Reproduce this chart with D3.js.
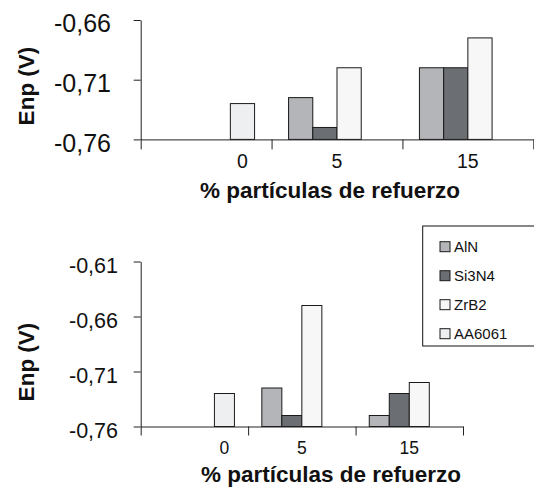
<!DOCTYPE html>
<html>
<head>
<meta charset="utf-8">
<script src="https://cdn.jsdelivr.net/npm/d3@7"></script>
<style>
  body { margin: 0; background: #fff; }
  svg { display: block; }
  svg text { font-family: "Liberation Sans", Arial, sans-serif; }
</style>
</head>
<body>
<svg width="534" height="488"></svg>
<script>
// data
const categories = ["0", "5", "15"];
const series = ["AlN", "Si3N4", "ZrB2", "AA6061"];

const topAlN    = [null, -0.725, -0.700];
const topSi3N4  = [null, -0.750, -0.700];
const topZrB2   = [null, -0.700, -0.675];
const topAA6061 = [-0.730, null, null];

const botAlN    = [null, -0.725, -0.750];
const botSi3N4  = [null, -0.750, -0.730];
const botZrB2   = [null, -0.650, -0.720];
const botAA6061 = [-0.730, null, null];

const topTicks = [-0.76, -0.71, -0.66];
const botTicks = [-0.76, -0.71, -0.66, -0.61];

const xTitle = "% partículas de refuerzo";
const yTitle = "Enp (V)";

const color = d3.scaleOrdinal()
    .domain(series)
    .range(["#b3b5b8", "#6b6e72", "#f7f7f7", "#eeeff1"]);

const svg = d3.select("svg");
const fmt = d => d.toFixed(2).replace(".", ",");

function panel(opt, values, ticks) {
    const g = svg.append("g");

    const x0 = d3.scaleBand().domain(categories).range([opt.left, opt.right]);
    const x1 = d3.scaleBand().domain(series)
        .range([opt.pad, x0.step() - opt.pad]);
    const xb = d3.scaleLinear().domain([0, categories.length]).range([opt.left, opt.right]);
    const y = d3.scaleLinear().domain([ticks[0], ticks[ticks.length - 1]])
        .range([opt.bottom, opt.top]);

    // bars
    const rows = [];
    series.forEach((s, i) => {
        values[i].forEach((v, j) => {
            if (v !== null) rows.push({s: s, cat: categories[j], v: v});
        });
    });
    g.selectAll("rect.bar")
        .data(rows)
        .enter()
        .append("rect")
        .attr("class", "bar")
        .attr("x", d => x0(d.cat) + x1(d.s))
        .attr("y", d => y(d.v))
        .attr("width", x1.bandwidth())
        .attr("height", d => y(ticks[0]) - y(d.v))
        .attr("fill", d => color(d.s))
        .attr("stroke", "#1a1a1a")
        .attr("stroke-width", 1);

    // y axis
    const ya = g.append("g")
        .attr("transform", `translate(${opt.left},0)`)
        .call(d3.axisLeft(y).tickValues(ticks).tickSize(7).tickSizeOuter(0).tickFormat(fmt))
        .attr("font-family", null);
    ya.select(".domain").attr("stroke", "#222");
    ya.selectAll(".tick line").attr("stroke", "#222");
    ya.selectAll(".tick text")
        .attr("x", opt.yLabelX - opt.left)
        .attr("dy", null)
        .attr("y", opt.yLabelDy)
        .attr("font-size", opt.yFont)
        .attr("fill", "#111");

    // x axis, ticks on category boundaries
    const xa = g.append("g")
        .attr("transform", `translate(0,${opt.bottom})`)
        .call(d3.axisBottom(xb).tickValues(d3.range(categories.length + 1))
            .tickSize(opt.xTick).tickSizeOuter(0).tickFormat(""));
    xa.select(".domain").attr("stroke", "#222");
    xa.selectAll(".tick line").attr("stroke", "#222");

    // category labels: a lone bar gets its label under it
    g.selectAll("text.cat")
        .data(categories)
        .enter()
        .append("text")
        .attr("class", "cat")
        .attr("x", (c, j) => {
            const present = series.filter((s, i) => values[i][j] !== null);
            if (present.length === 1) return x0(c) + x1(present[0]) + x1.bandwidth() / 2;
            return x0(c) + x0.bandwidth() / 2;
        })
        .attr("y", opt.catY)
        .attr("text-anchor", "middle")
        .attr("font-size", opt.catFont)
        .attr("fill", "#111")
        .text(c => c);

    g.append("text")
        .attr("x", opt.titleX)
        .attr("y", opt.titleY)
        .attr("text-anchor", "middle")
        .attr("font-size", opt.titleFont)
        .attr("font-weight", "bold")
        .attr("fill", "#111")
        .text(xTitle);

    g.append("text")
        .attr("transform", `translate(${opt.yTitleX},${opt.yTitleY}) rotate(-90)`)
        .attr("text-anchor", "middle")
        .attr("font-size", opt.titleFont)
        .attr("font-weight", "bold")
        .attr("fill", "#111")
        .text(yTitle);
}

panel({left: 140.7, right: 533.3, top: 20, bottom: 139.4, pad: 17,
       yLabelX: 111, yLabelDy: 11.6, yFont: 25, xTick: 10,
       catY: 167.5, catFont: 19.5, titleX: 330, titleY: 198, titleFont: 22.5,
       yTitleX: 34, yTitleY: 86},
      [topAlN, topSi3N4, topZrB2, topAA6061], topTicks);

panel({left: 140.7, right: 463, top: 261.5, bottom: 426.5, pad: 13.7,
       yLabelX: 118, yLabelDy: 11, yFont: 21.5, xTick: 9,
       catY: 454, catFont: 17.5, titleX: 331, titleY: 482, titleFont: 22.5,
       yTitleX: 34, yTitleY: 362},
      [botAlN, botSi3N4, botZrB2, botAA6061], botTicks);

// legend
const legend = svg.append("g");
legend.append("rect")
    .attr("x", 422.7).attr("y", 226)
    .attr("width", 130).attr("height", 120)
    .attr("fill", "#fff").attr("stroke", "#111").attr("stroke-width", 1);
const items = legend.selectAll("g.item")
    .data(series)
    .enter()
    .append("g")
    .attr("class", "item")
    .attr("transform", (_, i) => `translate(440,${241.7 + 29 * i})`);
items.append("rect")
    .attr("width", 10).attr("height", 10)
    .attr("fill", d => color(d))
    .attr("stroke", "#1a1a1a").attr("stroke-width", 1);
items.append("text")
    .attr("x", 14).attr("y", 10)
    .attr("font-size", 15)
    .attr("fill", "#111")
    .text(d => d);
</script>
</body>
</html>
